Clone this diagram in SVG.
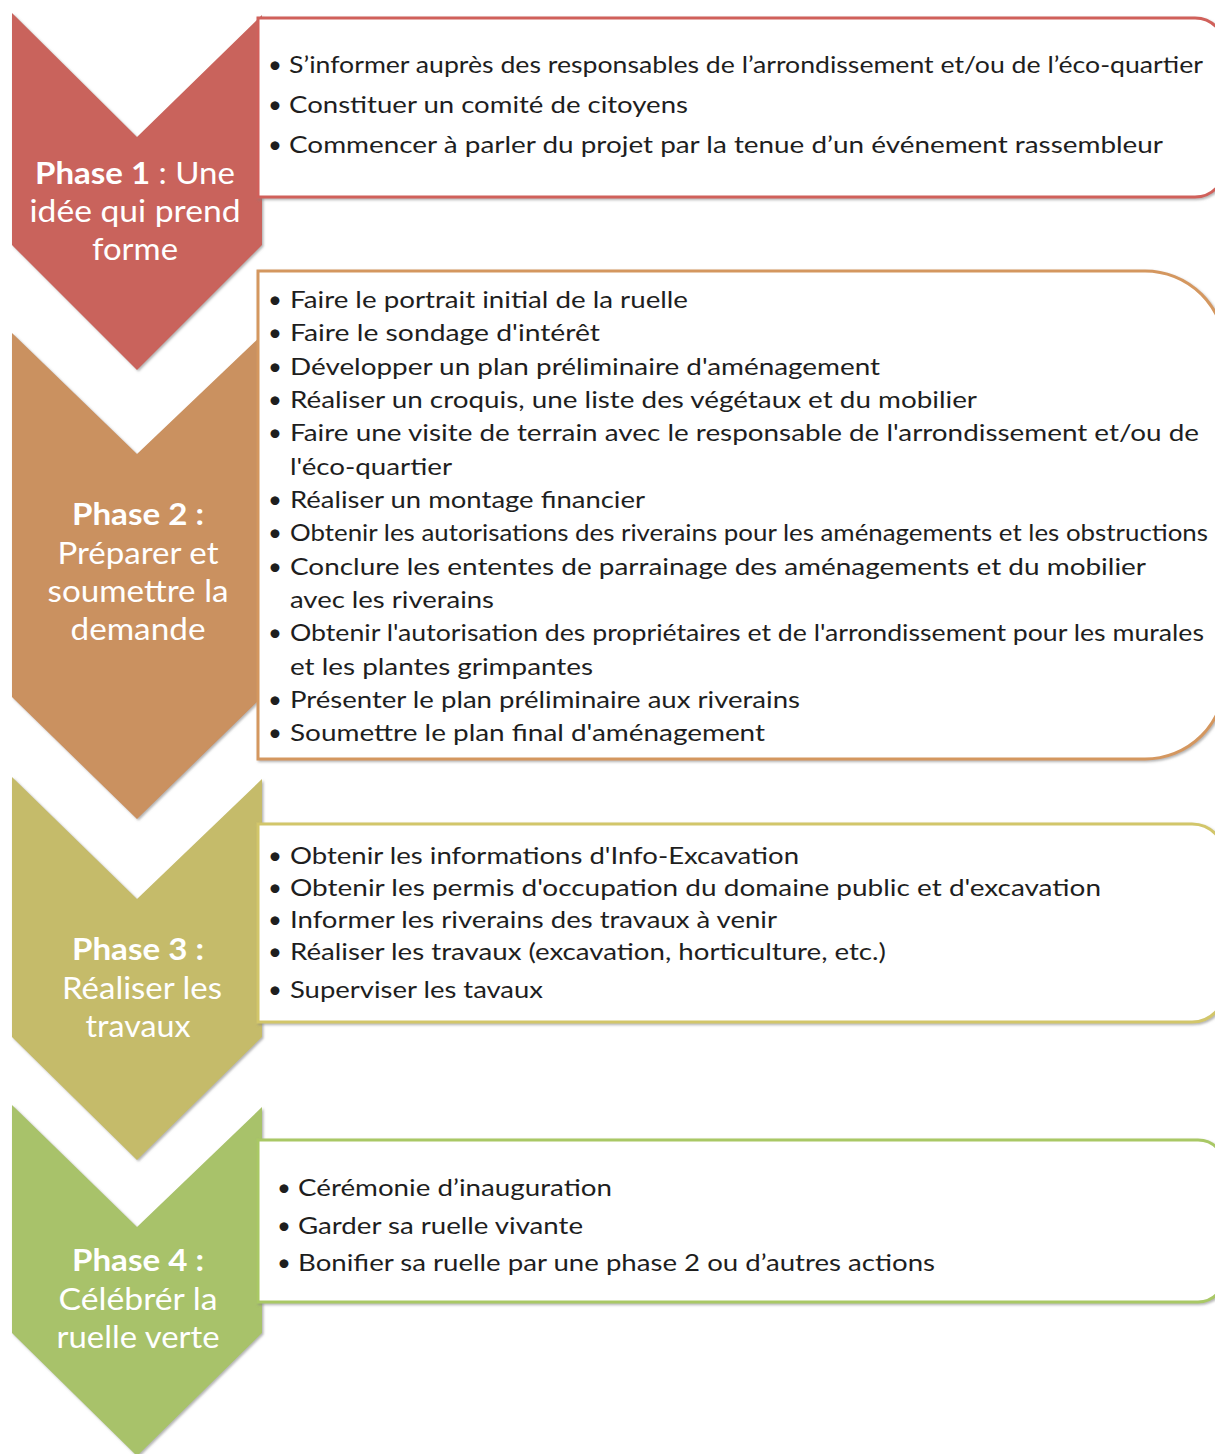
<svg xmlns="http://www.w3.org/2000/svg" width="1215" height="1454" viewBox="0 0 1215 1454">
<defs>
<filter id="sh" x="-5%" y="-5%" width="110%" height="110%">
<feDropShadow dx="1.5" dy="1.5" stdDeviation="1" flood-color="#808080" flood-opacity="0.6"/>
</filter>
</defs>
<style>
.lbl{font-family:Lato,"Noto Sans",sans-serif;font-size:31px;fill:#ffffff;text-anchor:middle}
.b{font-weight:bold}
.t{font-family:Lato,"Noto Sans",sans-serif;font-size:24px;fill:#1e1e1e}
.box{fill:#ffffff;stroke-width:3;filter:url(#sh)}
.chev{filter:url(#sh)}
</style>
<rect width="1215" height="1454" fill="#ffffff"/>
<g id="connectors"></g>

<g id="phase1">
<path class="chev" d="M12,13 L137,137 L262,15 L262,245 L137,370 L12,245 Z" fill="#C9645B"/>
<path class="box" d="M258,18 H1195 A30,30 0 0 1 1225,48 V167 A30,30 0 0 1 1195,197 H258 Z" stroke="#D0605A"/>
<text class="lbl" x="135" y="184" textLength="200" lengthAdjust="spacingAndGlyphs"><tspan class="b">Phase 1</tspan> : Une</text>
<text class="lbl" x="135" y="222" textLength="211" lengthAdjust="spacingAndGlyphs">idée qui prend</text>
<text class="lbl" x="135" y="260" textLength="86" lengthAdjust="spacingAndGlyphs">forme</text>
<text class="t" x="268" y="73">•</text><text class="t" x="289" y="73" textLength="914" lengthAdjust="spacingAndGlyphs">S’informer auprès des responsables de l’arrondissement et/ou de l’éco-quartier</text>
<text class="t" x="268" y="113">•</text><text class="t" x="289" y="113" textLength="399" lengthAdjust="spacingAndGlyphs">Constituer un comité de citoyens</text>
<text class="t" x="268" y="153">•</text><text class="t" x="289" y="153" textLength="874" lengthAdjust="spacingAndGlyphs">Commencer à parler du projet par la tenue d’un événement rassembleur</text>
</g>

<g id="phase2">
<path class="chev" d="M12,333 L137,454 L262,335 L262,697 L137,819 L12,697 Z" fill="#CA9160"/>
<path class="box" d="M258,271 H1145 A80,80 0 0 1 1225,351 V679 A80,80 0 0 1 1145,759 H258 Z" stroke="#D4975F"/>
<text class="lbl" x="138" y="525" textLength="132" lengthAdjust="spacingAndGlyphs"><tspan class="b">Phase 2 :</tspan></text>
<text class="lbl" x="138" y="564" textLength="161" lengthAdjust="spacingAndGlyphs">Préparer et</text>
<text class="lbl" x="138" y="602" textLength="181" lengthAdjust="spacingAndGlyphs">soumettre la</text>
<text class="lbl" x="138" y="640" textLength="135" lengthAdjust="spacingAndGlyphs">demande</text>
<text class="t" x="268" y="308">•</text><text class="t" x="290" y="308" textLength="398" lengthAdjust="spacingAndGlyphs">Faire le portrait initial de la ruelle</text>
<text class="t" x="268" y="341">•</text><text class="t" x="290" y="341" textLength="310" lengthAdjust="spacingAndGlyphs">Faire le sondage d'intérêt</text>
<text class="t" x="268" y="375">•</text><text class="t" x="290" y="375" textLength="590" lengthAdjust="spacingAndGlyphs">Développer un plan préliminaire d'aménagement</text>
<text class="t" x="268" y="408">•</text><text class="t" x="290" y="408" textLength="687" lengthAdjust="spacingAndGlyphs">Réaliser un croquis, une liste des végétaux et du mobilier</text>
<text class="t" x="268" y="441">•</text><text class="t" x="290" y="441" textLength="909" lengthAdjust="spacingAndGlyphs">Faire une visite de terrain avec le responsable de l'arrondissement et/ou de</text>
<text class="t" x="290" y="475" textLength="162" lengthAdjust="spacingAndGlyphs">l'éco-quartier</text>
<text class="t" x="268" y="508">•</text><text class="t" x="290" y="508" textLength="355" lengthAdjust="spacingAndGlyphs">Réaliser un montage financier</text>
<text class="t" x="268" y="541">•</text><text class="t" x="290" y="541" textLength="918" lengthAdjust="spacingAndGlyphs">Obtenir les autorisations des riverains pour les aménagements et les obstructions</text>
<text class="t" x="268" y="575">•</text><text class="t" x="290" y="575" textLength="856" lengthAdjust="spacingAndGlyphs">Conclure les ententes de parrainage des aménagements et du mobilier</text>
<text class="t" x="290" y="608" textLength="204" lengthAdjust="spacingAndGlyphs">avec les riverains</text>
<text class="t" x="268" y="641">•</text><text class="t" x="290" y="641" textLength="914" lengthAdjust="spacingAndGlyphs">Obtenir l'autorisation des propriétaires et de l'arrondissement pour les murales</text>
<text class="t" x="290" y="675" textLength="303" lengthAdjust="spacingAndGlyphs">et les plantes grimpantes</text>
<text class="t" x="268" y="708">•</text><text class="t" x="290" y="708" textLength="510" lengthAdjust="spacingAndGlyphs">Présenter le plan préliminaire aux riverains</text>
<text class="t" x="268" y="741">•</text><text class="t" x="290" y="741" textLength="475" lengthAdjust="spacingAndGlyphs">Soumettre le plan final d'aménagement</text>
</g>

<g id="phase3">
<path class="chev" d="M12,777 L137,899 L262,779 L262,1037 L137,1160 L12,1037 Z" fill="#C5BB6B"/>
<path class="box" d="M258,824 H1192 A33,33 0 0 1 1225,857 V989 A33,33 0 0 1 1192,1022 H258 Z" stroke="#D2C66A"/>
<text class="lbl" x="138" y="960" textLength="132" lengthAdjust="spacingAndGlyphs"><tspan class="b">Phase 3 :</tspan></text>
<text class="lbl" x="142" y="999" textLength="160" lengthAdjust="spacingAndGlyphs">Réaliser les</text>
<text class="lbl" x="138" y="1037" textLength="105" lengthAdjust="spacingAndGlyphs">travaux</text>
<text class="t" x="268" y="864">•</text><text class="t" x="290" y="864" textLength="509" lengthAdjust="spacingAndGlyphs">Obtenir les informations d'Info-Excavation</text>
<text class="t" x="268" y="896">•</text><text class="t" x="290" y="896" textLength="811" lengthAdjust="spacingAndGlyphs">Obtenir les permis d'occupation du domaine public et d'excavation</text>
<text class="t" x="268" y="928">•</text><text class="t" x="290" y="928" textLength="487" lengthAdjust="spacingAndGlyphs">Informer les riverains des travaux à venir</text>
<text class="t" x="268" y="960">•</text><text class="t" x="290" y="960" textLength="596" lengthAdjust="spacingAndGlyphs">Réaliser les travaux (excavation, horticulture, etc.)</text>
<text class="t" x="268" y="998">•</text><text class="t" x="290" y="998" textLength="253" lengthAdjust="spacingAndGlyphs">Superviser les tavaux</text>
</g>

<g id="phase4">
<path class="chev" d="M12,1105 L137,1227 L262,1107 L262,1333 L137,1456 L12,1333 Z" fill="#A8C26B"/>
<path class="box" d="M258,1140 H1198 A27,27 0 0 1 1225,1167 V1275 A27,27 0 0 1 1198,1302 H258 Z" stroke="#A9C865"/>
<text class="lbl" x="138" y="1271" textLength="132" lengthAdjust="spacingAndGlyphs"><tspan class="b">Phase 4 :</tspan></text>
<text class="lbl" x="138" y="1310" textLength="159" lengthAdjust="spacingAndGlyphs">Célébrér la</text>
<text class="lbl" x="138" y="1348" textLength="163" lengthAdjust="spacingAndGlyphs">ruelle verte</text>
<text class="t" x="277" y="1196">•</text><text class="t" x="298" y="1196" textLength="314" lengthAdjust="spacingAndGlyphs">Cérémonie d’inauguration</text>
<text class="t" x="277" y="1234">•</text><text class="t" x="298" y="1234" textLength="285" lengthAdjust="spacingAndGlyphs">Garder sa ruelle vivante</text>
<text class="t" x="277" y="1271">•</text><text class="t" x="298" y="1271" textLength="637" lengthAdjust="spacingAndGlyphs">Bonifier sa ruelle par une phase 2 ou d’autres actions</text>
</g>
</svg>
